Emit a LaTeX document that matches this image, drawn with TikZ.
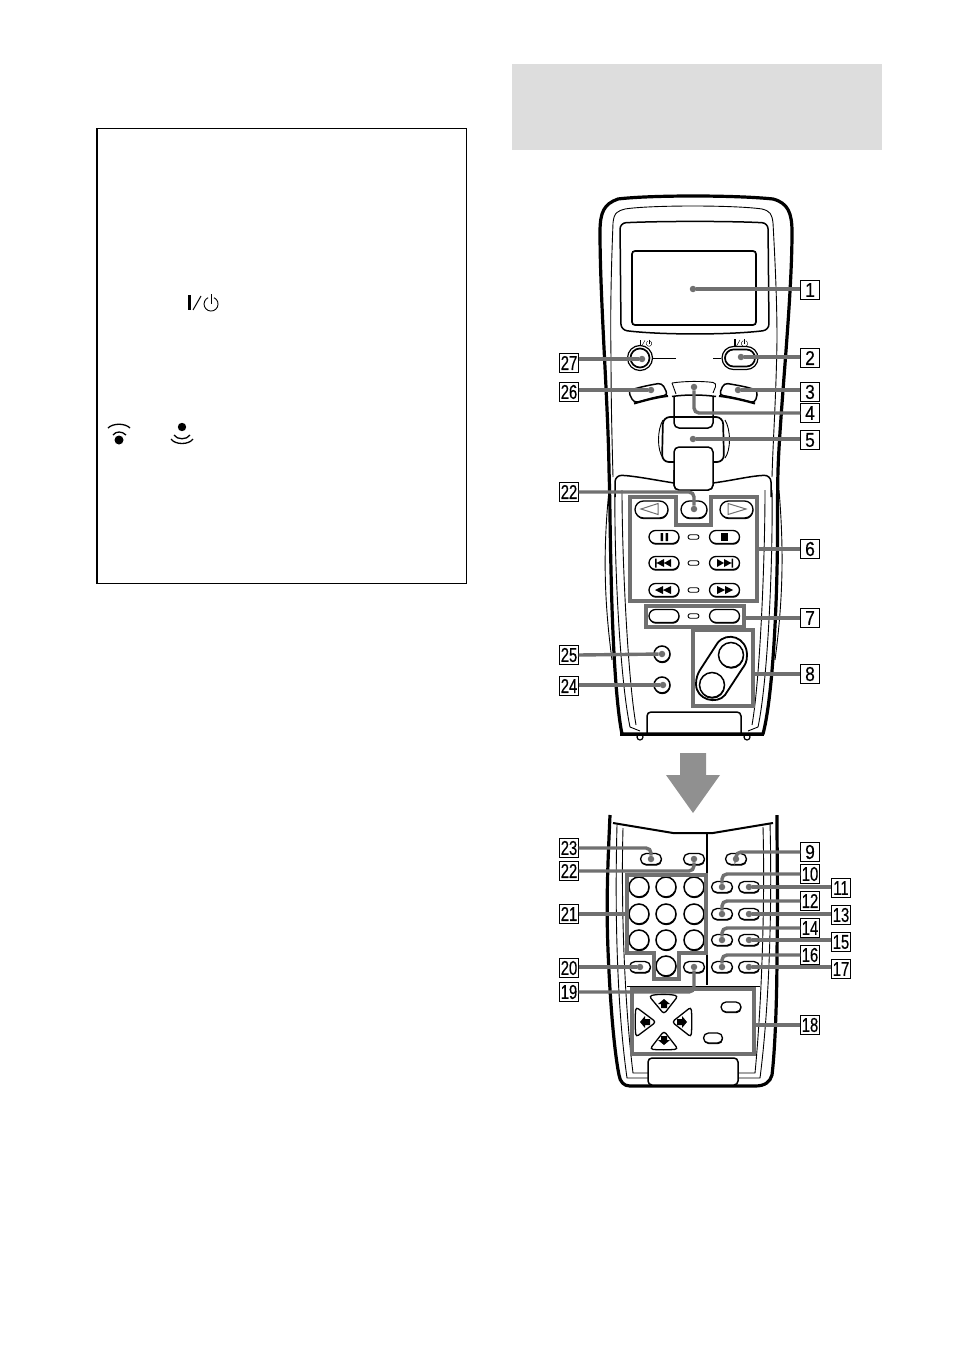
\documentclass[tikz,border=0pt]{standalone}
\usepackage{fontspec}
\setmainfont{Liberation Sans}
\newfontfamily\numone[FakeStretch=0.87,FakeBold=0.3]{Liberation Sans}
\newfontfamily\numtwo[FakeStretch=0.74,FakeBold=0.3]{Liberation Sans}
\usetikzlibrary{shapes.misc,shapes.geometric,shadows}
\definecolor{leadc}{HTML}{707070}
\definecolor{headc}{HTML}{DDDDDD}
\definecolor{arrowc}{HTML}{909090}
\tikzset{
 x=1bp,y=-1bp,
 num/.style={draw=black,line width=0.9bp,fill=white,inner sep=0pt,minimum size=18.5bp,font=\numone\fontsize{20bp}{20bp}\selectfont},
 numw/.style={num,font=\numtwo\fontsize{20bp}{20bp}\selectfont},
 lead/.style={draw=leadc,line width=3.4bp,rounded corners=5bp},
 dot/.style={circle,fill=leadc,inner sep=0pt,minimum size=6.5bp},
 grp/.style={draw=leadc,line width=4bp},
 grpn/.style={rectangle,grp,inner sep=0pt},
 shad/.style={drop shadow={shadow xshift=0.4bp,shadow yshift=-1.2bp,fill=black,opacity=1}},
 pillb/.style={rounded rectangle,draw=black,line width=1.3bp,fill=white,inner sep=0pt,minimum width=21bp,minimum height=11bp,shad},
 tpill/.style={pillb,minimum width=30bp,minimum height=13bp},
 tiny/.style={rounded rectangle,draw=black,line width=0.9bp,fill=white,inner sep=0pt,minimum width=11bp,minimum height=4.5bp},
 roundb/.style={circle,draw=black,line width=1.5bp,fill=white,inner sep=0pt,shad},
 body/.style={line width=3.2bp,line join=round},
 thinl/.style={line width=0.9bp},
 medl/.style={line width=1.5bp},
}
\newcommand\pwr[3]{\begin{scope}[shift={(#1,#2)},scale=#3]
 \fill (-23,-9) rectangle (-20,6);
 \draw[line width=#3*1bp] (-18,6) -- (-10,-8);
 \draw[line width=#3*0.9bp] (3,-6.3) arc[start angle=-65,end angle=245,radius=7];
 \draw[line width=#3*0.9bp] (0,-10) -- (0,0);
\end{scope}}
\begin{document}
\begin{tikzpicture}
\useasboundingbox (0,0) rectangle (954,1352);
\fill[white] (0,0) rectangle (954,1352);
% left panel and header
\fill[headc] (512,64) rectangle (882,150);
\draw[line width=1.2bp] (97,128.5) rectangle (466.5,583.5);
\pwr{211}{304}{1}
\fill (119,440) circle[radius=4.5];
\draw[line width=1.3bp] (108,428) .. controls (113,423) and (125,423) .. (130,428);
\draw[line width=1.3bp] (113,435) .. controls (116,431) and (122,431) .. (126,435);
\fill (182,427) circle[radius=4.2];
\draw[line width=1.3bp] (174,435) .. controls (177,440) and (187,440) .. (190,435);
\draw[line width=1.3bp] (171,439) .. controls (175,445) and (189,445) .. (193,439);
% big down arrow
\fill[arrowc] (680,753) -- (706,753) -- (706,775) -- (720,775) -- (693,813) -- (666,775) -- (680,775) -- cycle;

% ---------- upper remote
\draw[body] (622,734) .. controls (615,700) and (612,620) .. (611,570) .. controls (610,530) and (610,500) .. (609,470) .. controls (608,400) and (600,300) .. (600,232) .. controls (600,212) and (604,204) .. (618,199) .. controls (650,195) and (735,195) .. (773,199) .. controls (788,203) and (792,213) .. (792,232) .. controls (792,300) and (780,410) .. (778,470) .. controls (777,510) and (778,530) .. (777,570) .. controls (776,620) and (772,700) .. (763,734) -- cycle;
\draw[thinl] (609,490) .. controls (603,550) and (604,600) .. (612,660);
\draw[thinl] (779,490) .. controls (784,550) and (783,600) .. (775,660);
\draw[thinl] (611,357) .. controls (610,300) and (612,250) .. (613,223) .. controls (614,212) and (618,211) .. (625,209) .. controls (650,205) and (735,205) .. (762,209) .. controls (770,211) and (772,214) .. (773,223) .. controls (775,260) and (777,300) .. (777,340) .. controls (776,400) and (773,440) .. (772,477);
\draw[thinl] (611,357) .. controls (611,400) and (612,440) .. (613,477);
% screen
\draw[medl,rounded corners=6bp] (620,223) .. controls (660,221) and (730,221) .. (768,223) -- (769,330) .. controls (730,335) and (660,335) .. (621,330) -- cycle;
\draw[line width=1.7bp,rounded corners=3bp] (632,251) rectangle (756,325);
% power buttons
\pwr{649}{343.5}{0.4}
\pwr{744.5}{343.5}{0.45}
\node[circle,draw=black,line width=1.2bp,fill=white,inner sep=0pt,minimum size=25bp] (pl) at (640,358) {};
\node[circle,draw=black,line width=1.7bp,fill=white,inner sep=0pt,minimum size=19bp] (pli) at (640,358) {};
\node[rounded rectangle,draw=black,line width=1.2bp,fill=white,inner sep=0pt,minimum width=36bp,minimum height=23bp] (pr) at (740,358) {};
\node[rounded rectangle,draw=black,line width=1.7bp,fill=white,inner sep=0pt,minimum width=30bp,minimum height=17bp] (pri) at (740,358) {};
\coordinate (pm1) at (676,358);\coordinate (pm2) at (713,358);
\draw[thinl] (pl.east) -- (pm1);
\draw[thinl] (pm2) -- (pr.west);
% slot strip and centre piece
\draw[medl,rounded corners=5bp] (674,396) -- (674,428) -- (713,428) -- (713,396);
\draw[thinl] (663,420) .. controls (657,430) and (657,450) .. (663,458);
\draw[thinl] (725,420) .. controls (731,430) and (731,450) .. (725,458);
\draw[line width=1.7bp,rounded corners=7bp] (663,417) -- (723,417) -- (724,462) -- (662,462) -- cycle;
\draw[medl,rounded corners=5bp,fill=white] (674,490) -- (674,447) -- (713,447) -- (713,490) -- cycle;
\draw[medl,rounded corners=5bp,fill=white] (674,470) -- (674,490) -- (713,490) -- (713,470);
% three curved buttons
\draw[thinl,rounded corners=4bp] (672,383) .. controls (685,381) and (702,381) .. (717,383) -- (713,393);
\draw[thinl] (676,394) -- (672,383);
\draw[medl,rounded corners=4bp,fill=white] (628,391) .. controls (640,387) and (650,385) .. (662,383) -- (668,395) .. controls (655,397) and (645,400) .. (634,403) -- cycle;
\draw[medl,rounded corners=4bp,fill=white] (758,391) .. controls (748,387) and (736,385) .. (724,383) -- (719,395) .. controls (732,397) and (744,400) .. (755,403) -- cycle;
\draw[line width=2bp] (634,403.5) .. controls (645,400.5) and (655,397.5) .. (668,396);
\draw[line width=2bp] (755,403.5) .. controls (744,400.5) and (732,397.5) .. (719,396);
\draw[line width=1.5bp] (672,396.5) .. controls (685,394.5) and (702,394.5) .. (716,396.5);
% lower panel of the face
\draw[medl,rounded corners=7bp] (615,497) -- (615,475) .. controls (635,476) and (655,480) .. (674,483);
\draw[medl,rounded corners=7bp] (713,483) .. controls (735,480) and (750,476) .. (771,475) -- (771,497);
\draw[thinl] (615,490) .. controls (614,560) and (620,680) .. (630,727) -- (640,731);
\draw[thinl] (772,490) .. controls (773,560) and (768,680) .. (758,727) -- (748,731);
\draw[thinl] (622,490) .. controls (622,560) and (628,680) .. (636,725);
\draw[thinl] (765,490) .. controls (765,560) and (760,680) .. (752,725);
% tab and feet
\draw[medl,rounded corners=4bp] (647,734) -- (647,712) -- (741,712) -- (741,734);
\node[circle,draw=black,line width=1.2bp,fill=white,inner sep=0pt,minimum size=6bp] (f1) at (640,737) {};
\node[circle,draw=black,line width=1.2bp,fill=white,inner sep=0pt,minimum size=6bp] (f2) at (747,737) {};
\draw[line width=3.2bp] (620,734.5) -- (764,734.5);
% transport buttons
\node[pillb,minimum width=33bp,minimum height=17bp] (bl) at (651.5,509.5) {};
\node[pillb,minimum width=33bp,minimum height=17bp] (br) at (736.5,509.5) {};
\node[pillb,minimum width=26bp,minimum height=17bp] (bc) at (694,509.5) {};
\draw[leadc,line width=1bp] (641,509) -- (658,503.5) -- (658,514.5) -- cycle;
\draw[leadc,line width=1bp] (746,509) -- (728,503.5) -- (728,514.5) -- cycle;
\foreach \n/\yy in {a/537,b/563,c/590,d/616}{
 \node[tpill] (tl\n) at (664,\yy) {};
 \node[tiny] (tm\n) at (693.5,\yy) {};
 \node[tpill] (tr\n) at (724.5,\yy) {};
}
% icons on transport buttons
\fill (660.5,533) rectangle (663,541) (665.5,533) rectangle (668,541);
\fill (720.5,533) rectangle (727.5,540.5);
\fill (655,558.5) rectangle (656.5,567.5) (656.5,563) -- (664,559) -- (664,567) -- cycle (664,563) -- (671,559) -- (671,567) -- cycle;
\fill (733,558.5) rectangle (731.5,567.5) (731.5,563) -- (724,559) -- (724,567) -- cycle (724,563) -- (717,559) -- (717,567) -- cycle;
\fill (655,590) -- (663,586) -- (663,594) -- cycle (663,590) -- (671,586) -- (671,594) -- cycle;
\fill (733,590) -- (725,586) -- (725,594) -- cycle (725,590) -- (717,586) -- (717,594) -- cycle;
% big round pair
\draw[line width=1.8bp] (717.5,643) .. controls (727,631) and (747,637) .. (747,655) .. controls (747,662) and (745,665) .. (742,669) -- (725,695) .. controls (717,705) and (696,700) .. (696,684) .. controls (696,678) and (698,673) .. (700,670) -- cycle;
\node[roundb,minimum size=25bp] (r1) at (731,655) {};
\node[roundb,minimum size=25bp] (r2) at (712,685) {};
\node[roundb,minimum size=16bp] (r25) at (662,654) {};
\node[roundb,minimum size=16bp] (r24) at (662,685) {};
% gray groups upper
\coordinate (g6) at (757,548);
\draw[grp] (630,497) -- (676,497) -- (676,525) -- (711,525) -- (711,497) -- (757,497) -- (757,601) -- (630,601) -- cycle;
\node[grpn,minimum width=98bp,minimum height=21bp] (g7) at (694.5,616.5) {};
\node[grpn,minimum width=60bp,minimum height=76bp] (g8) at (722.5,668) {};
% dots upper
\node[dot] (d1) at (693,289) {};
\node[dot] (d2) at (741,357) {};
\node[dot] (d27) at (642,359) {};
\node[dot] (d26) at (651,390) {};
\node[dot] (d3) at (738,390) {};
\node[dot] (d4) at (694,387) {};
\node[dot] (d5) at (693,439) {};
\node[dot] (d22a) at (694,509) {};
\node[dot] (d25) at (662,654) {};
\node[dot] (d24) at (663,685) {};

% ---------- lower remote
\draw[body] (610,815) .. controls (608,860) and (606,900) .. (608,950) .. controls (610,1000) and (614,1050) .. (619,1075) .. controls (620,1082) and (624,1086) .. (630,1086) -- (755,1086) .. controls (765,1086) and (770,1082) .. (772,1075) .. controls (775,1050) and (777,1000) .. (777,950) .. controls (778,900) and (777,860) .. (777,815);
\draw[line width=2bp] (613,823) -- (673,833) -- (713,833) -- (773,823);
\draw[thinl] (617,825) .. controls (615,900) and (616,1000) .. (627,1078) -- (648,1078);
\draw[thinl] (770,823) .. controls (772,900) and (770,1000) .. (760,1078) -- (738,1078);
\draw[thinl] (623,828) .. controls (621,900) and (624,1000) .. (633,1073) -- (648,1073);
\draw[thinl] (763,827) .. controls (765,900) and (762,1000) .. (755,1073) -- (738,1073);
\draw[medl] (707,833) -- (707,985);
\draw[thinl] (627,986) -- (760,986);
\draw[medl,rounded corners=4bp,fill=white] (648,1085) -- (648,1058) -- (738,1058) -- (738,1085) -- cycle;
% small buttons
\node[pillb] (b23) at (651,859) {};
\node[pillb] (b22) at (694,859) {};
\node[pillb] (b9) at (736,859) {};
\foreach \n/\yy in {a/887,b/914,c/940,d/967}{
 \node[pillb] (kl\n) at (722,\yy) {};
 \node[pillb] (kr\n) at (749,\yy) {};
}
\node[pillb] (b20) at (640,967) {};
\node[pillb] (b19) at (694,967) {};
% number keys
\foreach \n/\xx/\yy in {k1/639/887,k2/666/887,k3/694/887,k4/639/914,k5/666/914,k6/694/914,k7/639/940,k8/666/940,k9/694/940,k0/666/966}{
 \node[roundb,minimum size=20bp] (\n) at (\xx,\yy) {};
}
% d-pad
\draw[line width=1.3bp,rounded corners=3bp,fill=white] (649,996) .. controls (658,994) and (669,994) .. (678,996) -- (664,1014) -- cycle;
\draw[line width=1.3bp,rounded corners=3bp,fill=white] (636,1007) .. controls (635,1016) and (635,1027) .. (636,1037) -- (656,1022) -- cycle;
\draw[line width=1.3bp,rounded corners=3bp,fill=white] (691,1007) .. controls (692,1016) and (692,1027) .. (691,1037) -- (672,1022) -- cycle;
\draw[line width=1.3bp,rounded corners=3bp,fill=white] (650,1049) .. controls (658,1050) and (669,1050) .. (678,1049) -- (664,1031) -- cycle;
\fill (664,999) -- (670,1004) -- (667,1004) -- (667,1008) -- (661,1008) -- (661,1004) -- (658,1004) -- cycle;
\fill (664,1045) -- (670,1040) -- (667,1040) -- (667,1036) -- (661,1036) -- (661,1040) -- (658,1040) -- cycle;
\fill (640,1022) -- (645,1016) -- (645,1019) -- (650,1019) -- (650,1025) -- (645,1025) -- (645,1028) -- cycle;
\fill (687,1022) -- (682,1016) -- (682,1019) -- (677,1019) -- (677,1025) -- (682,1025) -- (682,1028) -- cycle;
\node[pillb,minimum width=20bp,minimum height=10bp] (o1) at (731,1007) {};
\node[pillb,minimum width=19bp,minimum height=10bp] (o2) at (713,1038) {};
% gray groups lower
\coordinate (g21) at (627,913);
\draw[grp] (627,875) -- (706,875) -- (706,953) -- (679,953) -- (679,979) -- (654,979) -- (654,953) -- (627,953) -- cycle;
\node[grpn,minimum width=122bp,minimum height=65bp] (g18) at (693,1021.5) {};
% dots lower
\node[dot] (e23) at (651,859) {};
\node[dot] (e22) at (694,859) {};
\node[dot] (e9) at (736,859) {};
\node[dot] (e10) at (722,887) {};
\node[dot] (e11) at (749,887) {};
\node[dot] (e12) at (722,914) {};
\node[dot] (e13) at (749,914) {};
\node[dot] (e14) at (722,940) {};
\node[dot] (e15) at (749,940) {};
\node[dot] (e16) at (722,967) {};
\node[dot] (e17) at (749,967) {};
\node[dot] (e20) at (640,967) {};
\node[dot] (e19) at (694,967) {};

% ---------- labels
\node[num] (n1) at (810,290) {1};
\node[num] (n2) at (810,358) {2};
\node[num] (n3) at (810,392) {3};
\node[num] (n4) at (810,413) {4};
\node[num] (n5) at (810,440) {5};
\node[num] (n6) at (810,549) {6};
\node[num] (n7) at (810,618) {7};
\node[num] (n8) at (810,674) {8};
\node[numw] (n27) at (569,363) {27};
\node[numw] (n26) at (569,392) {26};
\node[numw] (n22) at (569,492) {22};
\node[numw] (n25) at (569,655) {25};
\node[numw] (n24) at (569,686) {24};
\node[numw] (n23) at (569,848) {23};
\node[numw] (m22) at (569,871) {22};
\node[numw] (n21) at (569,914) {21};
\node[numw] (n20) at (569,968) {20};
\node[numw] (n19) at (569,992) {19};
\node[num] (n9) at (810,852) {9};
\node[numw] (n10) at (810,874) {10};
\node[numw] (n11) at (841,888) {11};
\node[numw] (n12) at (810,901) {12};
\node[numw] (n13) at (841,915) {13};
\node[numw] (n14) at (810,928) {14};
\node[numw] (n15) at (841,942) {15};
\node[numw] (n16) at (810,955) {16};
\node[numw] (n17) at (841,969) {17};
\node[numw] (n18) at (810,1025) {18};

% ---------- connectors
\draw[lead] (n1.west |- d1) -- (d1);
\draw[lead] (n2.west |- d2) -- (d2);
\draw[lead] (n27.east |- d27) -- (d27);
\draw[lead] (n26.east |- d26) -- (d26);
\draw[lead] (n3.west |- d3) -- (d3);
\draw[lead] (n4.west) -| (d4);
\draw[lead] (n5.west |- d5) -- (d5);
\draw[lead] (n22.east) -| (d22a);
\draw[lead] (n6.west) -- (g6 |- n6);
\draw[lead] (n7.west) -- (g7.east |- n7);
\draw[lead] (n8.west) -- (g8.east |- n8);
\draw[lead] (n25.east) -- (d25);
\draw[lead] (n24.east |- d24) -- (d24);
\draw[lead] (n23.east) -| (e23);
\draw[lead] (m22.east) -| (e22);
\draw[lead] (n21.east) -- (g21 |- n21);
\draw[lead] (n20.east |- e20) -- (e20);
\draw[lead] (n19.east) -| (e19);
\draw[lead] (n9.west) -| (e9);
\draw[lead] (n10.west) -| (e10);
\draw[lead] (n11.west |- e11) -- (e11);
\draw[lead] (n12.west) -| (e12);
\draw[lead] (n13.west |- e13) -- (e13);
\draw[lead] (n14.west) -| (e14);
\draw[lead] (n15.west |- e15) -- (e15);
\draw[lead] (n16.west) -| (e16);
\draw[lead] (n17.west |- e17) -- (e17);
\draw[lead] (n18.west) -- (g18.east |- n18);
\end{tikzpicture}
\end{document}
